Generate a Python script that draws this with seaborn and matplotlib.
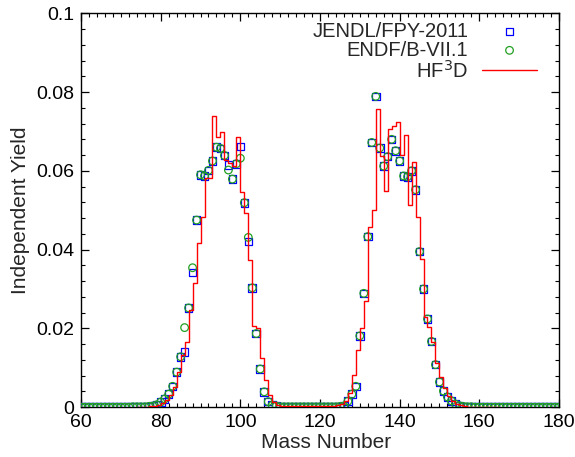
import numpy as np
import seaborn as sns
import matplotlib.pyplot as plt
from matplotlib.ticker import MultipleLocator

# mass numbers for the evaluated data
mass = np.arange(60, 181)

jendl = [
    0.0000, 0.0000, 0.0000, 0.0000, 0.0000, 0.0000, 0.0000, 0.0000, 0.0000, 0.0000,  # 60-69
    0.0000, 0.0000, 0.0000, 0.0001, 0.0001, 0.0001, 0.0001, 0.0002, 0.0003, 0.0006,  # 70-79
    0.0013, 0.0021, 0.0033, 0.0053, 0.0089, 0.0128, 0.0140, 0.0252, 0.0342, 0.0475,  # 80-89
    0.0590, 0.0587, 0.0601, 0.0625, 0.0660, 0.0657, 0.0639, 0.0615, 0.0579, 0.0618,  # 90-99
    0.0662, 0.0519, 0.0421, 0.0303, 0.0187, 0.0097, 0.0039, 0.0014, 0.0005, 0.0003,  # 100-109
    0.0001, 0.0001, 0.0001, 0.0001, 0.0001, 0.0001, 0.0001, 0.0001, 0.0001, 0.0001,  # 110-119
    0.0001, 0.0001, 0.0001, 0.0001, 0.0001, 0.0002, 0.0003, 0.0015, 0.0033, 0.0053,  # 120-129
    0.0181, 0.0289, 0.0433, 0.0672, 0.0789, 0.0658, 0.0612, 0.0636, 0.0680, 0.0651,  # 130-139
    0.0625, 0.0587, 0.0585, 0.0600, 0.0552, 0.0395, 0.0300, 0.0224, 0.0167, 0.0108,  # 140-149
    0.0064, 0.0041, 0.0026, 0.0016, 0.0008, 0.0004, 0.0002, 0.0001, 0.0001, 0.0000,  # 150-159
    0.0000, 0.0000, 0.0000, 0.0000, 0.0000, 0.0000, 0.0000, 0.0000, 0.0000, 0.0000,  # 160-169
    0.0000, 0.0000, 0.0000, 0.0000, 0.0000, 0.0000, 0.0000, 0.0000, 0.0000, 0.0000,  # 170-179
    0.0000,                                                                          # 180
]

endf = [
    0.0000, 0.0000, 0.0000, 0.0000, 0.0000, 0.0000, 0.0000, 0.0000, 0.0000, 0.0000,
    0.0000, 0.0000, 0.0000, 0.0001, 0.0001, 0.0001, 0.0001, 0.0002, 0.0003, 0.0006,
    0.0013, 0.0021, 0.0033, 0.0053, 0.0089, 0.0128, 0.0202, 0.0252, 0.0354, 0.0475,
    0.0590, 0.0587, 0.0601, 0.0625, 0.0660, 0.0657, 0.0639, 0.0602, 0.0579, 0.0618,
    0.0632, 0.0519, 0.0431, 0.0303, 0.0187, 0.0097, 0.0039, 0.0014, 0.0005, 0.0003,
    0.0001, 0.0001, 0.0001, 0.0001, 0.0001, 0.0001, 0.0001, 0.0001, 0.0001, 0.0001,
    0.0001, 0.0001, 0.0001, 0.0001, 0.0001, 0.0002, 0.0003, 0.0015, 0.0033, 0.0053,
    0.0181, 0.0289, 0.0433, 0.0672, 0.0789, 0.0658, 0.0612, 0.0636, 0.0680, 0.0651,
    0.0625, 0.0587, 0.0585, 0.0600, 0.0552, 0.0395, 0.0300, 0.0224, 0.0167, 0.0108,
    0.0064, 0.0041, 0.0026, 0.0016, 0.0008, 0.0004, 0.0002, 0.0001, 0.0001, 0.0000,
    0.0000, 0.0000, 0.0000, 0.0000, 0.0000, 0.0000, 0.0000, 0.0000, 0.0000, 0.0000,
    0.0000, 0.0000, 0.0000, 0.0000, 0.0000, 0.0000, 0.0000, 0.0000, 0.0000, 0.0000,
    0.0000,
]

# HF3D calculation, histogram levels from A to A+1
hf3d_mass = np.arange(74, 166)
hf3d = [
    0.0001, 0.0001, 0.0001, 0.0002, 0.0003, 0.0006,                                  # 74-79
    0.0010, 0.0018, 0.0030, 0.0052, 0.0090, 0.0132, 0.0166, 0.0247, 0.0314, 0.0416,  # 80-89
    0.0484, 0.0581, 0.0581, 0.0738, 0.0686, 0.0698, 0.0628, 0.0620, 0.0611, 0.0685,  # 90-99
    0.0547, 0.0494, 0.0374, 0.0205, 0.0200, 0.0124, 0.0068, 0.0030, 0.0012, 0.0006,  # 100-109
    0.0003, 0.0002, 0.0002, 0.0002, 0.0002, 0.0002, 0.0002, 0.0002, 0.0002, 0.0002,  # 110-119
    0.0002, 0.0002, 0.0002, 0.0003, 0.0005, 0.0008, 0.0015, 0.0035, 0.0081, 0.0145,  # 120-129
    0.0200, 0.0270, 0.0458, 0.0501, 0.0757, 0.0637, 0.0550, 0.0707, 0.0713, 0.0723,  # 130-139
    0.0640, 0.0691, 0.0512, 0.0622, 0.0484, 0.0375, 0.0230, 0.0204, 0.0166, 0.0111,  # 140-149
    0.0077, 0.0048, 0.0028, 0.0016, 0.0009, 0.0005, 0.0003, 0.0001, 0.0001, 0.0001,  # 150-159
    0.0001, 0.0001, 0.0001, 0.0001, 0.0001, 0.0001,                                  # 160-165
]

sns.set_style("ticks")
plt.rcParams["font.family"] = ["Liberation Sans", "DejaVu Sans"]

fig = plt.figure(figsize=(5.75, 4.57), dpi=100)
ax = fig.add_axes([0.141, 0.109, 0.831, 0.862])

sns.scatterplot(x=mass, y=jendl, marker="s", s=30, facecolor="none",
                edgecolor="#0000ff", linewidth=0.9, ax=ax, label="JENDL/FPY-2011", zorder=3)
sns.scatterplot(x=mass, y=endf, marker="o", s=30, facecolor="none",
                edgecolor="#22a022", linewidth=0.9, ax=ax, label="ENDF/B-VII.1", zorder=4)
sns.lineplot(x=hf3d_mass, y=hf3d, drawstyle="steps-post", color="#ff0000",
             linewidth=1.0, ax=ax, label="HF$^3$D", zorder=5)

ax.set_xlim(60, 180)
ax.set_ylim(0, 0.1)
ax.xaxis.set_major_locator(MultipleLocator(20))
ax.xaxis.set_minor_locator(MultipleLocator(2))
ax.yaxis.set_minor_locator(MultipleLocator(0.004))
ax.set_yticks([0, 0.02, 0.04, 0.06, 0.08, 0.1])
ax.set_yticklabels(["0", "0.02", "0.04", "0.06", "0.08", "0.1"])

ax.tick_params(which="both", direction="in", top=True, right=True, colors="black", labelsize=14)
ax.tick_params(which="major", length=6, width=0.9, pad=5)
ax.tick_params(which="minor", length=3, width=0.8)
for sp in ax.spines.values():
    sp.set_visible(True)
    sp.set_linewidth(1.0)
    sp.set_color("black")

ax.set_xlabel("Mass Number", fontsize=15, labelpad=0)
ax.xaxis.set_label_coords(0.513, -0.065)
ax.set_ylabel("Independent Yield", fontsize=15, labelpad=4)

ax.legend(loc="upper right", bbox_to_anchor=(0.962, 0.989), frameon=False,
          markerfirst=False, fontsize=14.5, handlelength=2.7, handletextpad=0.7,
          labelspacing=0.0, borderpad=0.2, borderaxespad=0.0, scatterpoints=1)

fig.savefig("out.png", dpi=100)
